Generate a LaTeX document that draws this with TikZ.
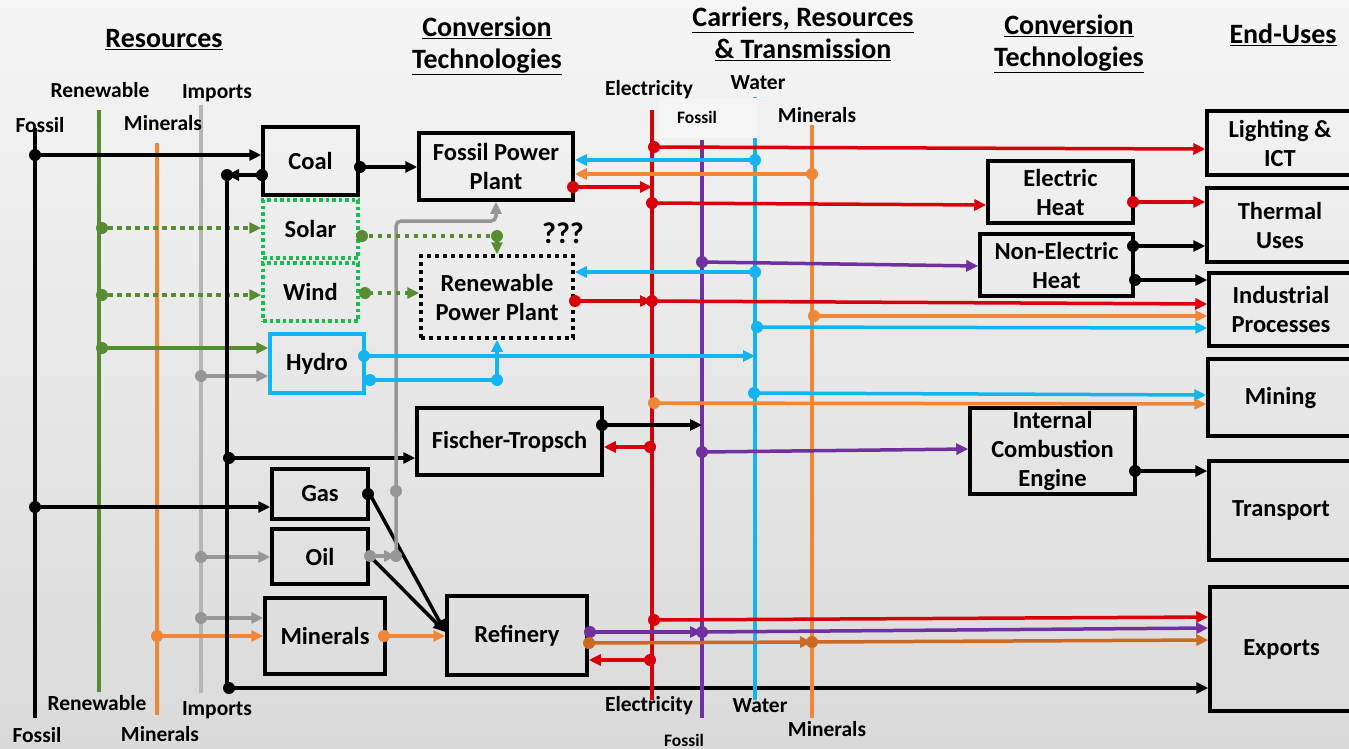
\documentclass[tikz,border=0pt]{standalone}
\usepackage{fontspec}
\setmainfont{Carlito}
\usetikzlibrary{arrows.meta}
\definecolor{cred}{RGB}{215,0,10}
\definecolor{cblue}{RGB}{20,180,240}
\definecolor{corange}{RGB}{240,135,55}
\definecolor{cdkorange}{RGB}{205,105,35}
\definecolor{cgreen}{RGB}{88,140,50}
\definecolor{cbright}{RGB}{20,190,80}
\definecolor{cpurple}{RGB}{112,48,160}
\definecolor{cgray}{RGB}{150,150,150}
\definecolor{cltgray}{RGB}{182,182,182}
\definecolor{bgtop}{RGB}{245,245,245}
\definecolor{bgbot}{RGB}{218,218,218}
\newcommand\dt[2]{\fill[#1] (#2) circle (6);}
\tikzset{
  box/.style={draw=black, line width=3.5pt, align=center, inner sep=1pt, font=\bfseries\fontsize{24.5}{29}\selectfont},
  rbox/.style={box, draw=cbright, dash pattern=on 3.5pt off 3pt},
  dbox/.style={box, dash pattern=on 4pt off 4pt},
  hbox/.style={box, draw=cblue},
  con/.style={line width=3.5pt},
  arr/.style={-{Triangle[length=12pt,width=11pt]}},
  dots/.style={con, cgreen, dash pattern=on 4.5pt off 4.5pt},
  bus/.style={line width=4.5pt},
  lbl/.style={font=\bfseries\fontsize{21.5}{24}\selectfont, inner sep=0pt},
  slbl/.style={font=\bfseries\fontsize{17.5}{20}\selectfont, inner sep=0pt},
  ttl/.style={font=\bfseries\fontsize{28}{32}\selectfont, align=center, inner sep=0pt},
}
\begin{document}
\begin{tikzpicture}[x=1pt,y=-1pt]
\useasboundingbox (0,0) rectangle (1349,748);
\clip (0,0) rectangle (1349,748);
\shade[top color=bgtop, bottom color=bgbot] (0,0) rectangle (1349,748);

% titles
\node[ttl] (t1) at (164,40) {\underline{Resources}};
\node[ttl] (t2) at (487,46) {\underline{Conversion}\\\underline{Technologies}};
\node[ttl] (t3) at (803,34) {\underline{Carriers, Resources}\\\underline{\& Transmission}};
\node[ttl] (t4) at (1069,44) {\underline{Conversion}\\\underline{Technologies}};
\node[ttl] (t5) at (1283,35) {\underline{End-Uses}};

% resource buses
\coordinate (fosT) at (35,128);  \coordinate (fosB) at (35,718);
\coordinate (renT) at (99,110);  \coordinate (renB) at (99,692);
\coordinate (minT) at (157,143); \coordinate (minB) at (157,715);
\coordinate (impT) at (201,105); \coordinate (impB) at (201,693);
\draw[bus,black] (fosT) -- (fosB);
\draw[bus,cgreen] (renT) -- (renB);
\draw[bus,corange] (minT) -- (minB);
\draw[bus,cltgray] (impT) -- (impB);
\node[lbl] (lf1) at (40,125) {Fossil};
\node[lbl] (lf2) at (37,735) {Fossil};
\node[lbl] (lr1) at (100,90) {Renewable};
\node[lbl] (lr2) at (97,703) {Renewable};
\node[lbl] (lm1) at (163,123) {Minerals};
\node[lbl] (lm2) at (160,734) {Minerals};
\node[lbl] (li1) at (217,93) {Imports};
\node[lbl] (li2) at (217,710) {Imports};

% left boxes
\node[box, minimum width=95pt, minimum height=68pt] (coal) at (310.5,161) {Coal};
\node[rbox, minimum width=95pt, minimum height=58pt] (solar) at (310.5,229) {Solar};
\node[rbox, minimum width=95pt, minimum height=58pt] (wind) at (310.5,292) {Wind};
\node[hbox, minimum width=94pt, minimum height=59pt] (hydro) at (317,363.5) {Hydro};
\node[box, minimum width=96pt, minimum height=50pt] (gas) at (320,494) {Gas};
\node[box, minimum width=96pt, minimum height=55pt] (oil) at (320,556.5) {Oil};
\node[box, minimum width=120pt, minimum height=76pt] (minb) at (325,636) {Minerals};

% middle boxes
\node[box, minimum width=154pt, minimum height=67pt] (fpp) at (496,166.5) {Fossil Power\\Plant};
\node[dbox, minimum width=152pt, minimum height=82pt] (rpp) at (497,297) {Renewable\\Power Plant};
\node[font=\bfseries\fontsize{30}{32}\selectfont, inner sep=0pt] (qqq) at (563,233) {???};
\node[box, minimum width=185pt, minimum height=67pt] (ft) at (509.5,441.5) {Fischer-Tropsch};
\node[box, minimum width=140pt, minimum height=79pt] (ref) at (517,635.5) {Refinery};

% right conversion
\node[box, minimum width=145pt, minimum height=62pt] (eh) at (1060.5,192) {Electric\\Heat};
\node[box, minimum width=153pt, minimum height=62pt] (neh) at (1056.5,265) {Non-Electric\\Heat};
\node[box, minimum width=165pt, minimum height=86pt, inner sep=0pt] (ice) at (1052.5,451) {Internal\\Combustion\\Engine};

% end uses
\node[box, minimum width=146pt, minimum height=64pt] (light) at (1280,143) {Lighting \&\\ICT};
\node[box, minimum width=146pt, minimum height=74pt] (therm) at (1280,225) {Thermal\\Uses};
\node[box, minimum width=144pt, minimum height=73pt] (ind) at (1281,309.5) {Industrial\\Processes};
\node[box, minimum width=145pt, minimum height=77pt] (mine) at (1280.5,397.5) {Mining};
\node[box, minimum width=144pt, minimum height=99pt] (trans) at (1281,510.5) {Transport};
\node[box, minimum width=143pt, minimum height=124pt] (exp) at (1281.5,649) {Exports};

% resource links
\draw[con,arr] (fosT |- 0,155) -- (coal.west |- 0,155);
\draw[con,arr] (fosT |- 0,507) -- (gas.west |- 0,507);
\draw[dots,arr] (renT |- 0,228) -- (solar.west |- 0,228);
\draw[dots,arr] (renT |- 0,295) -- (wind.west |- 0,295);
\draw[con,cgreen,arr] (renT |- 0,348) -- (hydro.west |- 0,348);
\draw[con,cgray,arr] (impT |- 0,376) -- (hydro.west |- 0,376);
\draw[con,cgray,arr] (impT |- 0,557) -- (oil.west |- 0,557);
\draw[con,cgray,arr] (impT |- 0,618) -- (minb.west |- 0,618);
\draw[con,corange,arr] (minT |- 0,636) -- (minb.west);
\dt{black}{35,155} \dt{black}{35,507}
\dt{cgreen}{102,228} \dt{cgreen}{102,295} \dt{cgreen}{102,348}
\dt{cgray}{201,376} \dt{cgray}{201,557} \dt{cgray}{201,618}
\dt{corange}{157,636}

% coal return line
\coordinate (cr) at (227,175);
\draw[con,arr] (coal.west |- 0,175) -- (cr);
\draw[con] (cr) -- (cr |- 0,688);
\draw[con,arr] (cr |- 0,688) -- (exp.west |- 0,688);
\draw[con,arr] (cr |- 0,458) -- (ft.west |- 0,458);
\dt{black}{262,175} \dt{black}{227,175} \dt{black}{229,458} \dt{black}{229,688}

% coal -> fpp
\draw[con,arr] (coal.east |- 0,167) -- (fpp.west |- 0,167);
\dt{black}{360,167}

% gray oil line to fpp
\coordinate (gx) at (396,556);
\draw[con,black,arr] (gas.east |- 0,494) -- (ref.west |- 0,632);
\draw[con,black,arr] (oil.east |- 0,556) -- (ref.west |- 0,632);
\draw[con,cgray,arr] (oil.east |- 0,556) -- (gx);
\draw[con,cgray,arr,rounded corners=5pt] (gx) -- (gx |- 0,221) -- (fpp.south |- 0,221) -- (fpp.south);
\dt{cgray}{396,491} \dt{cgray}{396,556} \dt{cgray}{370,556}
\dt{black}{368,494}

% solar / wind / hydro
\draw[dots] (solar.east |- 0,236) -- (rpp.north |- 0,236);
\draw[con,cgreen,arr] (rpp.north |- 0,236) -- (rpp.north);
\dt{cgreen}{362,236} \dt{cgreen}{497,236}
\draw[dots,arr] (wind.east |- 0,293) -- (rpp.west |- 0,293);
\dt{cgreen}{365,293}

% minerals -> refinery
\draw[con,corange,arr] (minb.east) -- (ref.west |- 0,636);
\dt{corange}{384,636}

% carrier buses
\coordinate (elec) at (652,110); \coordinate (elecB) at (652,700);
\coordinate (fosC) at (702,140); \coordinate (fosCB) at (702,718);
\coordinate (water) at (755,97); \coordinate (waterB) at (755,700);
\coordinate (minC) at (812,125); \coordinate (minCB) at (812,718);
\draw[bus,cred] (elec) -- (elecB);
\draw[bus,cpurple] (fosC) -- (fosCB);
\draw[bus,cblue] (water) -- (waterB);
\draw[bus,corange] (minC) -- (minCB);
\node[fill=bgtop, minimum width=98pt, minimum height=40pt, inner sep=0pt] (fbox) at (708,118) {};
\node[slbl] (lfc1) at (697,117) {Fossil};
\node[slbl] (lfc2) at (684,740) {Fossil};
\node[lbl] (le1) at (649,90) {Electricity};
\node[lbl] (le2) at (649,706) {Electricity};
\node[lbl] (lw1) at (758,83) {Water};
\node[lbl] (lw2) at (760,706) {Water};
\node[lbl] (lmc1) at (817,115) {Minerals};
\node[lbl] (lmc2) at (827,729) {Minerals};

% hydro links
\draw[con,cblue,arr] (hydro.east |- 0,356) -- (water |- 0,356);
\draw[con,cblue] (hydro.east |- 0,380) -- (rpp.south |- 0,380);
\draw[con,cblue,arr] (rpp.south |- 0,380) -- (rpp.south);
\dt{cblue}{364,356} \dt{cblue}{370,380} \dt{cblue}{497,380}

% carrier links
\draw[con,cred,arr] (elec |- 0,147) -- (light.west |- 0,149);
\draw[con,cblue,arr] (water |- 0,160) -- (fpp.east |- 0,160);
\draw[con,corange,arr] (minC |- 0,174) -- (fpp.east |- 0,174);
\draw[con,cred,arr] (fpp.east |- 0,187) -- (elec |- 0,187);
\draw[con,cred,arr] (elec |- 0,203) -- (eh.west |- 0,205);
\draw[con,cpurple,arr] (fosC |- 0,262) -- (neh.west |- 0,266);
\draw[con,cblue,arr] (water |- 0,272) -- (rpp.east |- 0,272);
\draw[con,cred,arr] (rpp.east |- 0,301) -- (elec |- 0,301);
\draw[con,cred,arr] (elec |- 0,301) -- (ind.west |- 0,304);
\draw[con,corange,arr] (minC |- 0,316) -- (ind.west |- 0,316);
\draw[con,cblue,arr] (water |- 0,327) -- (ind.west |- 0,328);
\draw[con,cblue,arr] (water |- 0,393) -- (mine.west |- 0,395);
\draw[con,corange,arr] (elec |- 0,403) -- (mine.west |- 0,404);
\draw[con,black,arr] (ft.east |- 0,425) -- (fosC |- 0,425);
\draw[con,cred,arr] (elec |- 0,447) -- (ft.east |- 0,447);
\draw[con,cpurple,arr] (fosC |- 0,452) -- (ice.west |- 0,449);
\draw[con,cred,arr] (elec |- 0,620) -- (exp.west |- 0,617);
\draw[con,cpurple,arr] (ref.east |- 0,632) -- (fosC |- 0,632);
\draw[con,cpurple,arr] (fosC |- 0,632) -- (exp.west |- 0,628);
\draw[con,cdkorange,arr] (ref.east |- 0,643) -- (minC |- 0,642);
\draw[con,cdkorange,arr] (minC |- 0,642) -- (exp.west |- 0,640);
\draw[con,cred,arr] (elec |- 0,660) -- (ref.east |- 0,660);
\dt{cred}{654,147} \dt{cblue}{755,160} \dt{corange}{812,174}
\dt{cred}{573,187} \dt{cred}{652,203} \dt{cpurple}{702,262}
\dt{cblue}{755,272} \dt{cred}{575,301} \dt{cred}{652,301}
\dt{corange}{814,316} \dt{cblue}{757,327} \dt{cblue}{754,393}
\dt{corange}{654,403} \dt{black}{602,425} \dt{cred}{650,447}
\dt{cpurple}{702,452} \dt{cred}{654,620} \dt{cpurple}{590,632}
\dt{cpurple}{702,632} \dt{cdkorange}{589,643} \dt{cdkorange}{812,642}
\dt{cred}{650,660}

% right links
\draw[con,cred,arr] (eh.east |- 0,202) -- (therm.west |- 0,202);
\draw[con,black,arr] (neh.east |- 0,246) -- (therm.west |- 0,246);
\draw[con,black,arr] (neh.east |- 0,280) -- (ind.west |- 0,280);
\draw[con,black,arr] (ice.east |- 0,471) -- (trans.west |- 0,471);
\dt{cred}{1133,202} \dt{black}{1133,246} \dt{black}{1135,280} \dt{black}{1135,471}
\end{tikzpicture}
\end{document}
